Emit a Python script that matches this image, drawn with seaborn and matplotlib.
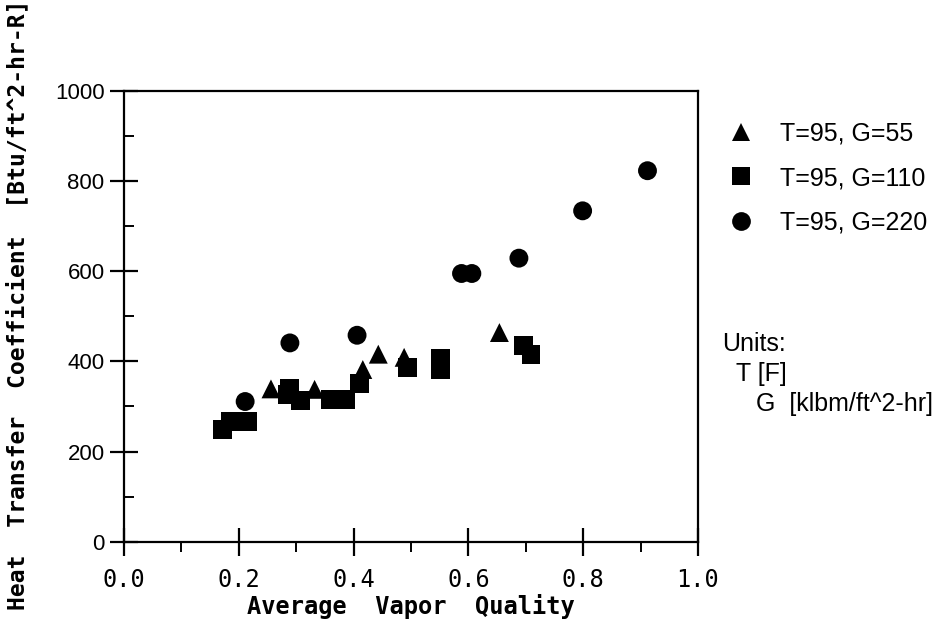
import matplotlib
matplotlib.use("Agg")
import matplotlib.pyplot as plt
import seaborn as sns
import pandas as pd
from matplotlib.ticker import MultipleLocator, FormatStrFormatter
from matplotlib.lines import Line2D

# ---- data ----
series_labels = ["T=95, G=55", "T=95, G=110", "T=95, G=220"]
series_markers = ["^", "s", "o"]

g55_quality = [0.256, 0.332, 0.416, 0.443, 0.488, 0.654]
g55_htc = [339, 338, 382, 416, 409, 464]

g110_quality = [0.172, 0.186, 0.215, 0.285, 0.289, 0.308, 0.359, 0.386,
                0.411, 0.494, 0.551, 0.551, 0.696, 0.709]
g110_htc = [249, 267, 267, 326, 339, 314, 315, 315, 350, 386, 406, 381, 435, 416]

g220_quality = [0.211, 0.289, 0.406, 0.588, 0.606, 0.688, 0.799, 0.912]
g220_htc = [311, 441, 458, 595, 595, 629, 734, 823]

x_ticks = [0.0, 0.2, 0.4, 0.6, 0.8, 1.0]
y_ticks = [0, 200, 400, 600, 800, 1000]

x_label = "Average  Vapor  Quality"
y_label = "Heat  Transfer  Coefficient  [Btu/ft^2-hr-R]"
units_lines = ["Units:", "T [F]", "G  [klbm/ft^2-hr]"]

df = pd.concat([
    pd.DataFrame({"quality": g55_quality, "htc": g55_htc, "series": series_labels[0]}),
    pd.DataFrame({"quality": g110_quality, "htc": g110_htc, "series": series_labels[1]}),
    pd.DataFrame({"quality": g220_quality, "htc": g220_htc, "series": series_labels[2]}),
], ignore_index=True)

sns.set_style("white")
plt.rcParams["font.family"] = ["Liberation Sans", "DejaVu Sans"]
plt.rcParams["text.color"] = "black"
plt.rcParams["axes.labelcolor"] = "black"
plt.rcParams["xtick.color"] = "black"
plt.rcParams["ytick.color"] = "black"

fig = plt.figure(figsize=(9.49, 6.27), dpi=100)
ax = fig.add_axes([0.1307, 0.136, 0.6048, 0.719])

sns.scatterplot(data=df, x="quality", y="htc", style="series",
                style_order=series_labels,
                markers=dict(zip(series_labels, series_markers)),
                color="black", s=185, linewidth=0, legend=False, ax=ax)

ax.set_xlim(x_ticks[0], x_ticks[-1])
ax.set_ylim(y_ticks[0], y_ticks[-1])
ax.set_xticks(x_ticks)
ax.set_yticks(y_ticks)
ax.xaxis.set_minor_locator(MultipleLocator(0.1))
ax.yaxis.set_minor_locator(MultipleLocator(100))
ax.xaxis.set_major_formatter(FormatStrFormatter("%.1f"))

for sp in ax.spines.values():
    sp.set_visible(True)
    sp.set_color("black")
    sp.set_linewidth(1.6)

ax.tick_params(axis="both", which="major", direction="inout", length=20,
               width=1.6, color="black", bottom=True, left=True,
               labelcolor="black")
ax.tick_params(axis="x", which="minor", direction="out", length=7, width=1.4,
               color="black", bottom=True)
ax.tick_params(axis="y", which="minor", direction="in", length=7, width=1.4,
               color="black", left=True)
ax.tick_params(axis="x", which="major", pad=9, labelsize=17)
ax.tick_params(axis="y", which="major", pad=4, labelsize=16)
for lab in ax.get_xticklabels():
    lab.set_fontfamily("DejaVu Sans Mono")

ax.set_xlabel(x_label, fontfamily="DejaVu Sans Mono", fontweight="bold",
              fontsize=17, labelpad=1, color="black")
ax.set_ylabel(y_label, fontfamily="DejaVu Sans Mono", fontweight="bold",
              fontsize=16.6, color="black")
ax.yaxis.set_label_coords(-0.165, 0.525)

handles = [Line2D([], [], linestyle="none", marker=m, color="black",
                  markersize=13.5, markeredgewidth=0)
           for m in series_markers]
fig.legend(handles, series_labels, loc="upper left",
           bbox_to_anchor=(0.765, 0.806), frameon=False, fontsize=18,
           handlelength=1.2, handletextpad=0.95, labelspacing=0.82,
           borderpad=0, borderaxespad=0)

units_x = [0.761, 0.776, 0.797]
units_y = [0.452, 0.404, 0.356]
for line, x, y in zip(units_lines, units_x, units_y):
    fig.text(x, y, line, fontsize=18, ha="left", va="center", color="black")

fig.savefig("out.png", dpi=100, facecolor="white")
